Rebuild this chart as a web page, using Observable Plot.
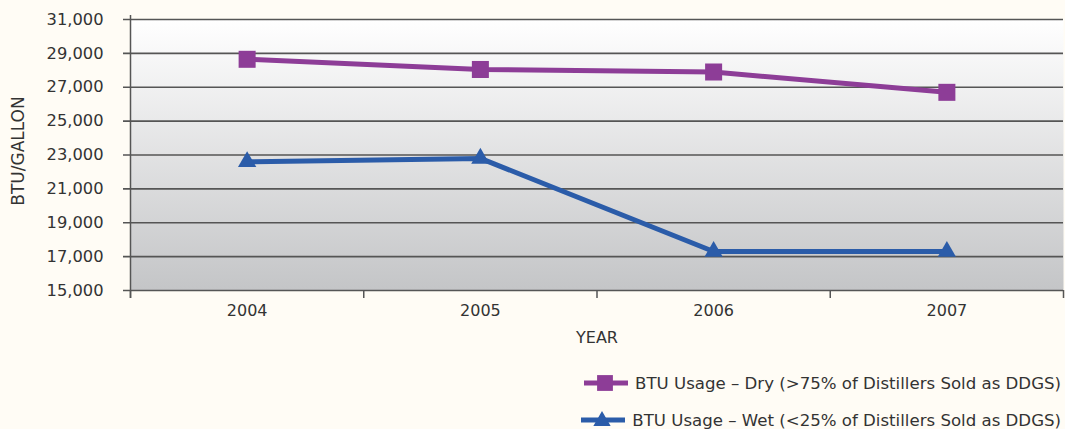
<!DOCTYPE html>
<html>
<head>
<meta charset="utf-8">
<script src="https://cdn.jsdelivr.net/npm/d3@7"></script>
<script src="https://cdn.jsdelivr.net/npm/@observablehq/plot@0.6"></script>
<style>
  html, body { margin: 0; padding: 0; background: #fffcf5; }
  body { width: 1065px; height: 429px; overflow: hidden; font-family: "DejaVu Sans", sans-serif; color: #333; }
  #legend { position: absolute; left: 0; top: 370px; width: 1065px; }
  .row { position: absolute; right: 4px; display: flex; align-items: center; font-size: 16.6px; color: #333; white-space: nowrap; }
  .row svg { margin-right: 6px; }
</style>
</head>
<body>
<div id="chart"></div>
<div id="legend"></div>
<script>
const years = [2004, 2005, 2006, 2007];
const dryValues = [28650, 28050, 27900, 26700];
const wetValues = [22600, 22800, 17300, 17300];
const seriesNames = ["BTU Usage – Dry (>75% of Distillers Sold as DDGS)", "BTU Usage – Wet (<25% of Distillers Sold as DDGS)"];
const seriesColors = ["#8d3d97", "#2b5ca9"];
const seriesSymbols = ["square", "triangle"];
const yTicks = [15000, 17000, 19000, 21000, 23000, 25000, 27000, 29000, 31000];
const yearBoundaries = [2003.5, 2004.5, 2005.5, 2006.5, 2007.5];

const dry = years.map((y, i) => ({year: y, value: dryValues[i]}));
const wet = years.map((y, i) => ({year: y, value: wetValues[i]}));

const plot = Plot.plot({
  width: 1065,
  height: 355,
  marginLeft: 130,
  marginRight: 2,
  marginTop: 19,
  marginBottom: 65,
  style: {background: "transparent", fontFamily: "DejaVu Sans, sans-serif", fontSize: "16px", color: "#333"},
  x: {domain: [2003.5, 2007.5]},
  y: {domain: [15000, 31000]},
  marks: [
    Plot.frame({fill: "url(#bggrad)", stroke: "none"}),
    Plot.ruleY(yTicks, {stroke: "#555", strokeWidth: 1.7, insetLeft: -7}),
    Plot.ruleX([2003.5], {stroke: "#555", strokeWidth: 1.5, insetTop: -4, insetBottom: -8}),
    Plot.axisY({ticks: yTicks, tickSize: 0, tickPadding: 27, tickFormat: d3.format(","), label: null, fontSize: 16.3, fill: "#333"}),
    Plot.axisX({ticks: yearBoundaries, tickSize: 8, tickFormat: () => "", label: null, stroke: "#555", strokeWidth: 1.5}),
    Plot.axisX({ticks: years, tickSize: 0, tickPadding: 14, tickFormat: d => String(d), label: null, fontSize: 16, fill: "#333"}),
    Plot.text(["YEAR"], {frameAnchor: "bottom", dy: 52, fontSize: 16, fill: "#333"}),
    Plot.text(["BTU/GALLON"], {frameAnchor: "left", textAnchor: "middle", dx: -112, dy: -4, rotate: -90, fontSize: 17, fill: "#333"}),
    Plot.line(dry, {x: "year", y: "value", stroke: seriesColors[0], strokeWidth: 5}),
    Plot.line(wet, {x: "year", y: "value", stroke: seriesColors[1], strokeWidth: 5}),
    Plot.dot(dry, {x: "year", y: "value", symbol: seriesSymbols[0], r: 9.6, fill: seriesColors[0], stroke: "none"}),
    Plot.dot(wet, {x: "year", y: "value", symbol: seriesSymbols[1], r: 6.8, fill: seriesColors[1], stroke: "none"})
  ]
});

// gradient definition for plot background
const svg = d3.select(plot);
const defs = svg.insert("defs", ":first-child");
const grad = defs.append("linearGradient").attr("id", "bggrad").attr("x1", 0).attr("y1", 0).attr("x2", 0).attr("y2", 1);
grad.append("stop").attr("offset", "0%").attr("stop-color", "#ffffff");
grad.append("stop").attr("offset", "100%").attr("stop-color", "#c4c5c7");

document.getElementById("chart").appendChild(plot);

// legend
const legend = d3.select("#legend");
const rowTops = [0, 37];
seriesNames.forEach((name, i) => {
  const row = legend.append("div").attr("class", "row").style("top", rowTops[i] + "px");
  const s = row.append("svg").attr("width", 46).attr("height", 26);
  s.append("line").attr("x1", 1).attr("x2", 45).attr("y1", 13).attr("y2", 13).attr("stroke", seriesColors[i]).attr("stroke-width", 5);
  s.append("path").attr("transform", i === 0 ? "translate(22,13)" : "translate(22,14)")
    .attr("d", d3.symbol(i === 0 ? d3.symbolSquare : d3.symbolTriangle, i === 0 ? 250 : 130)())
    .attr("fill", seriesColors[i]);
  row.append("span").text(name);
});
</script>
</body>
</html>
